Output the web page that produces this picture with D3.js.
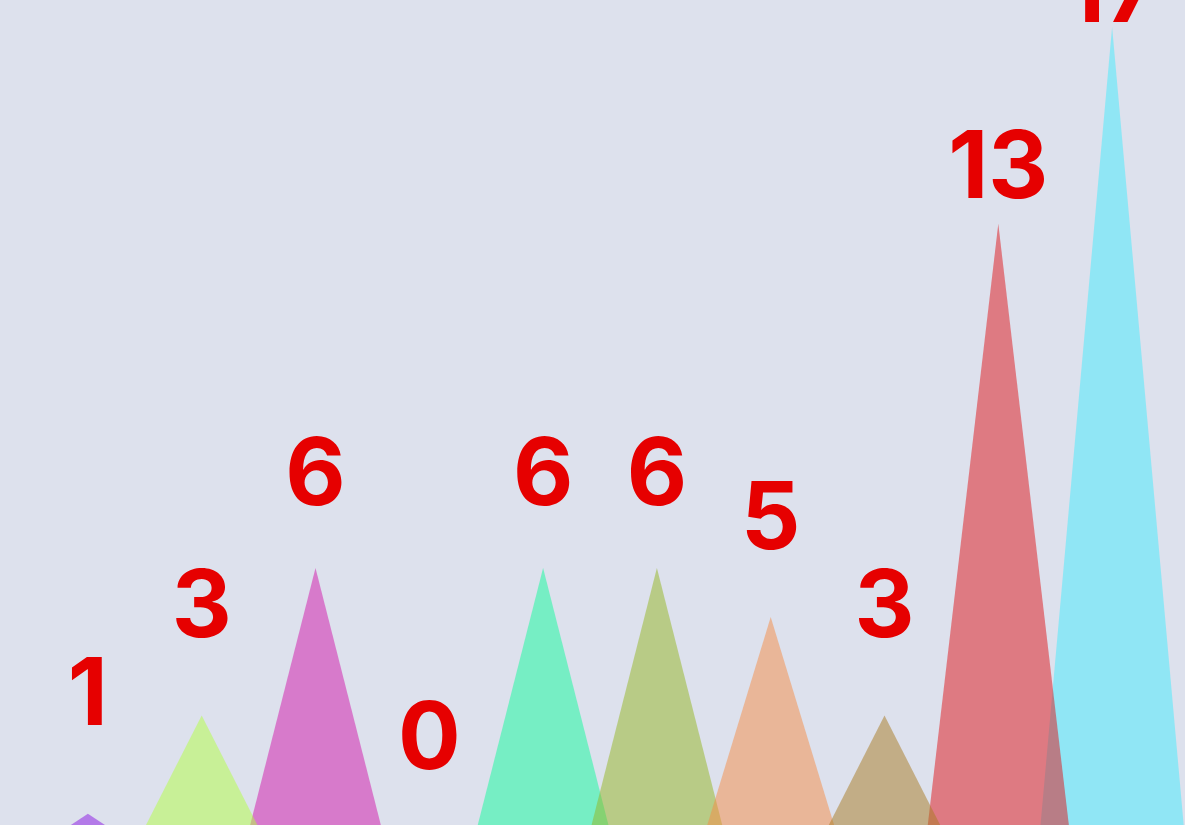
<!DOCTYPE html>
<html>
<head>
<meta charset="utf-8">
<script src="https://cdnjs.cloudflare.com/ajax/libs/d3/7.8.5/d3.min.js"></script>
<style>
  html, body { margin: 0; padding: 0; background: #dde1ed; overflow: hidden; }
  svg { display: block; }
</style>
</head>
<body>
<div id="chart"></div>
<script>
var categories = ["A", "B", "C", "D", "E", "F", "G", "H", "I", "J"];
var values = [1, 3, 6, 0, 6, 6, 5, 3, 13, 17];
var colors = ["#8a13e3", "#b3ff41", "#d113a9", "#888888", "#0ffb9b", "#93b51f",
              "#f58b43", "#a7791f", "#df1317", "#43ebfd"];

var width = 1185;
var height = 825;
var halfBase = 75;

var rows = categories.map(function (c, i) {
  return {name: c, value: values[i], color: colors[i]};
});

var svg = d3.select("#chart")
  .append("svg")
  .attr("width", width)
  .attr("height", height);

svg.append("rect")
  .attr("width", width)
  .attr("height", height)
  .attr("fill", "#dde1ed");

var x = d3.scaleBand()
  .domain(categories)
  .range([31, 1169])
  .padding(0);

var y = d3.scaleLinear()
  .domain([0, d3.max(values)])
  .range([863, 27]);

// labels sit on their own scale, a bit above the peaks
var labelY = d3.scaleLinear()
  .domain([0, d3.max(values)])
  .range([769, 22]);

function cx(d) {
  return x(d.name) + x.bandwidth() / 2;
}

// tall peaks go to the back
var order = rows.slice().sort(function (a, b) {
  return b.value - a.value;
});

svg.append("g")
  .attr("class", "peaks")
  .selectAll("path")
  .data(order)
  .enter()
  .append("path")
  .attr("d", function (d) {
    var c = cx(d);
    return "M" + (c - halfBase) + "," + y(0) +
      "L" + c + "," + y(d.value) +
      "L" + (c + halfBase) + "," + y(0) + "Z";
  })
  .attr("fill", function (d) { return d.color; })
  .attr("fill-opacity", 0.5);

svg.append("g")
  .attr("class", "labels")
  .selectAll("text")
  .data(rows)
  .enter()
  .append("text")
  .attr("x", cx)
  .attr("y", function (d) { return labelY(d.value); })
  .attr("text-anchor", "middle")
  .style("font-family", "Inter, 'Noto Sans', sans-serif")
  .style("font-weight", 700)
  .style("font-size", "93px")
  .style("fill", "#e60000")
  .text(function (d) { return d.value; });
</script>
</body>
</html>
